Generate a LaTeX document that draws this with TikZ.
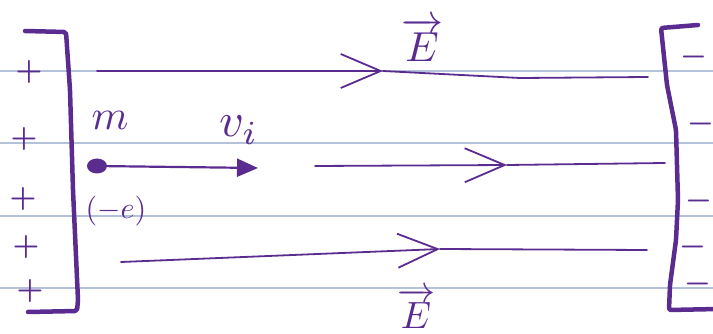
\documentclass[tikz,border=0pt]{standalone}
\usepackage{amsmath}
\usepackage{graphicx}
\usepackage{xcolor}
\usepackage{tikz}
\usetikzlibrary{positioning,arrows.meta,shapes.geometric}
\definecolor{ink}{HTML}{5B2C90}
\definecolor{rule}{HTML}{B4C2D9}
\tikzset{
  plate/.style={draw=ink, line width=4.5pt, line cap=round, line join=round,
                rounded corners=2pt},
  ruling/.style={draw=rule, line width=1.4pt},
  fline/.style={draw=ink, line width=1.8pt, line cap=round, line join=round},
  barb/.style={fline, -{Straight Barb[length=40pt, width=34pt]}},
  vel/.style={draw=ink, line width=2.2pt, -{Triangle[length=21pt, width=18pt]}},
  hand/.style={text=ink, inner sep=1pt},
  particle/.style={ellipse, fill=ink, minimum width=20pt, minimum height=15pt,
                   inner sep=0pt},
}
\newcommand{\sgn}[1]{\scalebox{3}{\boldmath$#1$}}

\begin{document}
\begin{tikzpicture}[x=1pt, y=-1pt]
\useasboundingbox (0,0) rectangle (713,334);

% --- ruled paper ---
\foreach \y in {71,143,216,288}
  \draw[ruling] (0,\y) -- (713,\y);

% --- positive plate ---
\draw[plate] (25,31) -- (66,32) -- (70,90) -- (73,190) -- (78,300) -- (77,311) -- (28,312);
\foreach \x/\y [count=\i] in {29/72, 24/139, 23/199, 26/247, 30/291}
  \node[hand] (pos\i) at (\x,\y) {\sgn{+}};

% --- negative plate ---
\draw[plate] (698,25) -- (661,28) -- (667,85) -- (676,130) -- (678,200) -- (676,240)
  -- (670,285) -- (669,310) -- (718,309);
\foreach \x/\y [count=\i] in {694/57, 701/124, 699/201, 693/247, 698/284}
  \node[hand] (neg\i) at (\x,\y) {\sgn{-}};

% --- field lines ---
\coordinate (fa1) at (97,71);
\coordinate (ft1) at (383,71);
\coordinate (fb1) at (648,77);
\draw[barb] (fa1) -- (ft1);
\draw[fline] (ft1) -- (520,78) -- (fb1);

\coordinate (fa2) at (315,166);
\coordinate (ft2) at (507,165);
\coordinate (fb2) at (665,163);
\draw[barb] (fa2) -- (ft2);
\draw[fline] (ft2) -- (fb2);

\coordinate (fa3) at (121,262);
\coordinate (ft3) at (440,249);
\coordinate (fb3) at (647,250);
\draw[barb] (fa3) -- (ft3);
\draw[fline] (ft3) -- (fb3);

\node[hand, anchor=base] (Etop) at (422,62) {\scalebox{4.2}{$\overrightarrow{E}$}};
\node[hand, anchor=base] (Ebot) at (416,328) {\scalebox{3.8}{$\overrightarrow{E}$}};

% --- electron ---
\node[particle] (elec) at (97,166) {};
\coordinate (vtip) at (258,168);
\draw[vel] (elec) -- (vtip);
\node[hand, above=28pt of elec, xshift=13pt] (mass) {\scalebox{4.2}{$m$}};
\node[hand, below=21pt of elec, xshift=19pt] (charge) {\scalebox{3}{$(-e)$}};
\node[hand, anchor=base west] (speed) at (218,137) {\scalebox{4.8}{$v_i$}};

\end{tikzpicture}
\end{document}
